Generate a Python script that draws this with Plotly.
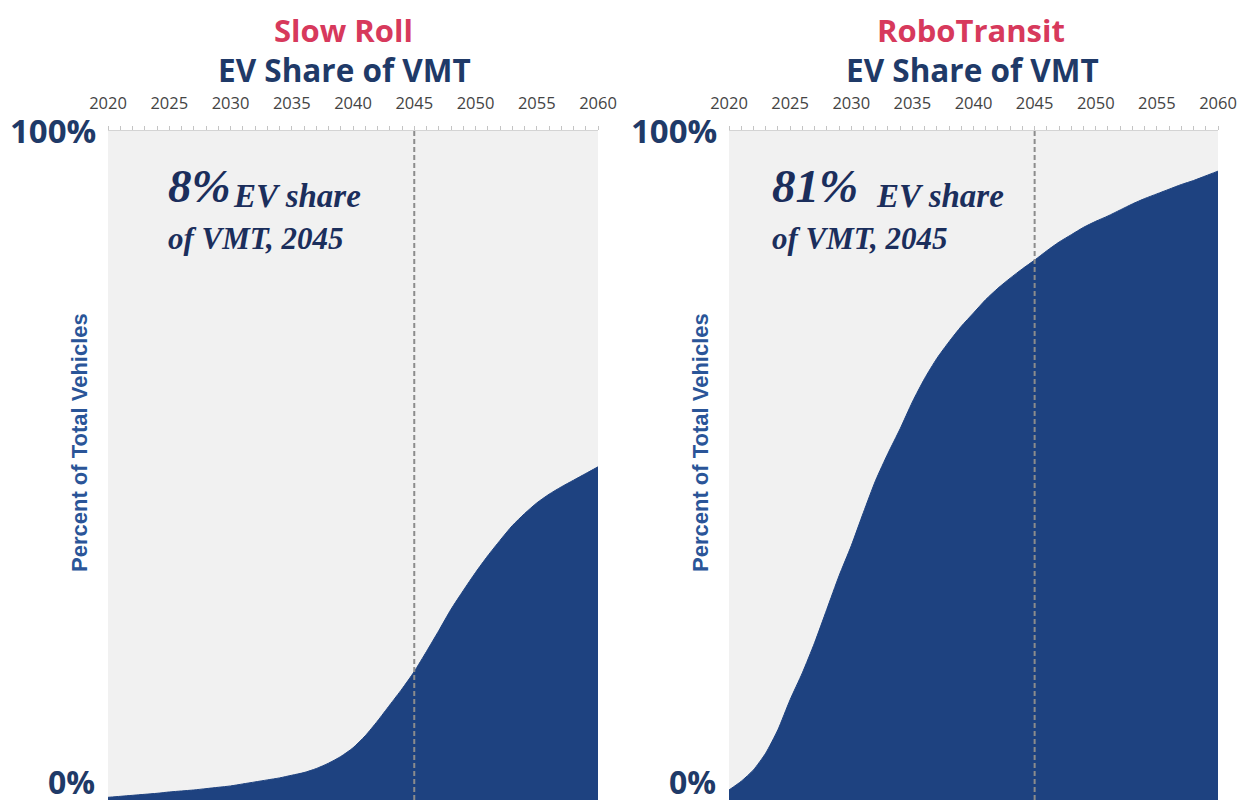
import plotly.graph_objects as go

# ---------------- data ----------------
years = list(range(2020, 2061))
slow_share = [0.4, 0.55, 0.7, 0.85, 1.0, 1.2, 1.35, 1.5, 1.7, 1.9,
              2.1, 2.4, 2.7, 3.0, 3.3, 3.7, 4.1, 4.7, 5.5, 6.5,
              7.8, 9.6, 11.8, 14.2, 16.6, 19.2, 22.2, 25.3, 28.5, 31.3,
              34.0, 36.5, 38.8, 41.0, 42.8, 44.4, 45.7, 46.8, 47.8, 48.8,
              49.8]
robo_share = [1.5, 2.8, 4.5, 7.0, 10.5, 15.0, 19.0, 23.5, 28.5, 33.5,
              38.0, 43.0, 47.8, 51.8, 55.5, 59.5, 63.0, 66.0, 68.5, 70.8,
              72.8, 74.8, 76.5, 78.0, 79.4, 80.7, 82.1, 83.4, 84.5, 85.6,
              86.5, 87.3, 88.2, 89.1, 89.9, 90.6, 91.3, 92.0, 92.6, 93.3,
              94.0]

scenarios = ["Slow Roll", "RoboTransit"]
headline_pct = ["8%", "81%"]
marker_year = 2045
tick_years = [2020, 2025, 2030, 2035, 2040, 2045, 2050, 2055, 2060]

W, H = 1247, 802
OFF = 8  # page body margin offset
NAVY = "#1e4280"
TITLE_NAVY = "#1f3a68"
CRIMSON = "#d7395c"


def px(x):
    return (x - OFF) / W


def py(y):
    return 1 - (y - OFF) / H


fig = go.Figure()

for i, vals in enumerate([slow_share, robo_share]):
    ax = "" if i == 0 else "2"
    fig.add_trace(go.Scatter(
        x=years, y=vals, mode="lines", fill="tozeroy",
        line=dict(color=NAVY, width=1, shape="spline", smoothing=0.6),
        fillcolor=NAVY, xaxis="x" + ax, yaxis="y" + ax, showlegend=False,
        hoverinfo="skip"))
    fig.add_trace(go.Scatter(
        x=[marker_year, marker_year], y=[0, 100], mode="lines",
        line=dict(color="#8c8c8c", width=2, dash="5px,3px"),
        xaxis="x" + ax, yaxis="y" + ax, showlegend=False, hoverinfo="skip"))

xdom = [[px(108), px(598)], [px(729), px(1218)]]
ydom = [py(800), py(131)]

axis_common = dict(
    range=[2020, 2060], side="top", tickvals=tick_years,
    ticks="outside", ticklen=4, tickcolor="#c4c4c4", tickwidth=1,
    minor=dict(dtick=1, ticks="outside", ticklen=4, tickcolor="#c4c4c4", tickwidth=1),
    showline=True, linecolor="#d4d4d4", linewidth=1,
    showgrid=False, zeroline=False, fixedrange=True, automargin=False,
    tickfont=dict(family="Open Sans", size=16.5, color="#444444"),
    ticklabelstandoff=10,
)
yaxis_common = dict(range=[0, 100], showticklabels=False, ticks="",
                    showgrid=False, zeroline=False, showline=False,
                    fixedrange=True, automargin=False)

fig.update_layout(
    width=W, height=H, autosize=False,
    margin=dict(l=0, r=0, t=0, b=0, pad=0, autoexpand=False),
    paper_bgcolor="white",
    plot_bgcolor="#f1f1f1",
    xaxis=dict(domain=xdom[0], anchor="y", **axis_common),
    yaxis=dict(domain=ydom, anchor="x", **yaxis_common),
    xaxis2=dict(domain=xdom[1], anchor="y2", **axis_common),
    yaxis2=dict(domain=ydom, anchor="x2", **yaxis_common),
)

annotations = []
title_cx = [343, 971]
lefts = [0, 621]
for i in range(2):
    o = lefts[i]
    annotations.append(dict(x=px(title_cx[i]), y=py(30), xref="paper", yref="paper",
                            text=f"<b>{scenarios[i]}</b>", showarrow=False,
                            font=dict(family="Open Sans", size=31, color=CRIMSON),
                            xanchor="center", yanchor="middle"))
    annotations.append(dict(x=px(title_cx[i] + 1), y=py(70), xref="paper", yref="paper",
                            text="<b>EV Share of VMT</b>", showarrow=False,
                            font=dict(family="Open Sans", size=31.5, color=TITLE_NAVY),
                            xanchor="center", yanchor="middle"))
    annotations.append(dict(x=px(98 + o), y=py(131), xref="paper", yref="paper",
                            text="<b>100%</b>", showarrow=False,
                            font=dict(family="Open Sans", size=33, color=TITLE_NAVY),
                            xanchor="right", yanchor="middle"))
    annotations.append(dict(x=px(97 + o), y=py(781), xref="paper", yref="paper",
                            text="<b>0%</b>", showarrow=False,
                            font=dict(family="Open Sans", size=32, color=TITLE_NAVY),
                            xanchor="right", yanchor="middle"))
    annotations.append(dict(x=px(79 + o), y=py(443), xref="paper", yref="paper",
                            text="<b>Percent of Total Vehicles</b>", showarrow=False,
                            textangle=-90,
                            font=dict(family="Liberation Sans", size=22, color="#2a5598"),
                            xanchor="center", yanchor="middle"))

serif = "Liberation Serif"
ann_x = [166, 770]
ev_x = [231, 874]
for i in range(2):
    annotations.append(dict(x=px(ann_x[i]), y=py(214), xref="paper", yref="paper",
                            text=f"<b><i>{headline_pct[i]}</i></b>", showarrow=False,
                            font=dict(family=serif, size=47, color="#1b2e5c"),
                            xanchor="left", yanchor="bottom"))
    annotations.append(dict(x=px(ev_x[i]), y=py(216), xref="paper", yref="paper",
                            text="<b><i>EV share</i></b>", showarrow=False,
                            font=dict(family=serif, size=33, color="#1b2e5c"),
                            xanchor="left", yanchor="bottom"))
    annotations.append(dict(x=px(ann_x[i]), y=py(258), xref="paper", yref="paper",
                            text="<b><i>of VMT, 2045</i></b>", showarrow=False,
                            font=dict(family=serif, size=31, color="#1b2e5c"),
                            xanchor="left", yanchor="bottom"))

fig.update_layout(annotations=annotations)

fig.write_html("out.html")
